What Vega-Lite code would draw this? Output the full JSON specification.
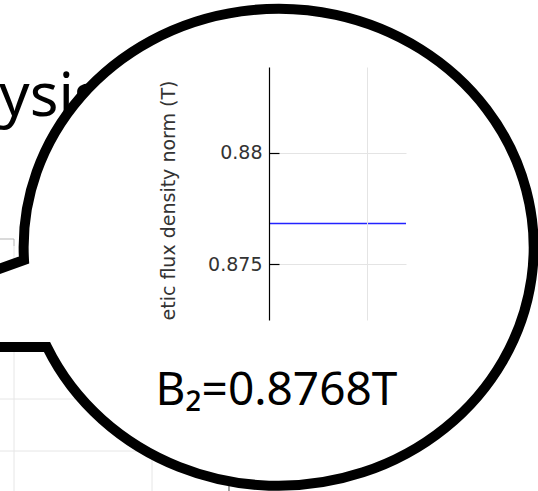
{
  "$schema": "https://vega.github.io/schema/vega-lite/v6.json",
  "autosize": {"type": "none"},
  "width": 137,
  "height": 253,
  "padding": {"left": 269, "top": 67, "right": 132, "bottom": 171},
  "background": "white",
  "config": {"view": {"stroke": null}},
  "datasets": {
    "series": [
      {"x": 0, "b": 0.87683},
      {"x": 1.4, "b": 0.87683}
    ],
    "backdrop": [
      {"kind": "grid", "x1": -3, "x2": 0, "y1": 0.868923, "y2": 0.868923},
      {"kind": "grid", "x1": -3, "x2": 0, "y1": 0.866582, "y2": 0.866582},
      {"kind": "grid", "x1": -2.6058, "x2": -2.6058, "y1": 0.87581, "y2": 0.86},
      {"kind": "grid", "x1": -1.1956, "x2": -1.1956, "y1": 0.87, "y2": 0.86},
      {"kind": "frame", "x1": -3, "x2": -2.6058, "y1": 0.876126, "y2": 0.876126},
      {"kind": "frame", "x1": -2.6058, "x2": -2.6058, "y1": 0.876126, "y2": 0.87581},
      {"kind": "tick", "x1": -0.4088, "x2": -0.4088, "y1": 0.866, "y2": 0.86}
    ],
    "heading": [{"x": -1.70, "y": 0.881664, "label": "Analysis"}],
    "bubble": [{"x": 0.09197, "y": 0.875789}]
  },
  "encoding": {
    "x": {
      "type": "quantitative",
      "scale": {"domain": [0, 1.4], "nice": false, "zero": false},
      "axis": {
        "orient": "bottom",
        "values": [1],
        "grid": true,
        "gridColor": "#e4e4e4",
        "gridWidth": 1,
        "labels": false,
        "ticks": false,
        "domain": false,
        "zindex": 1,
        "title": "B₂=0.8768T",
        "titleFont": "Noto Sans",
        "titleFontSize": 46,
        "titleFontWeight": "normal",
        "titleColor": "#000000",
        "titleAlign": "center",
        "titleBaseline": "alphabetic",
        "titleX": 7,
        "titleY": 84.5
      }
    },
    "y": {
      "type": "quantitative",
      "scale": {"domain": [0.87248, 0.88387], "nice": false, "zero": false},
      "axis": {
        "orient": "left",
        "values": [0.875, 0.88],
        "format": "~g",
        "grid": true,
        "gridColor": "#e4e4e4",
        "gridWidth": 1,
        "domainColor": "#000000",
        "domainWidth": 1.2,
        "tickColor": "#000000",
        "tickWidth": 1.2,
        "tickSize": -10,
        "labelPadding": 17,
        "labelFont": "DejaVu Sans",
        "labelFontSize": 19,
        "labelColor": "#333333",
        "zindex": 1,
        "title": "etic flux density norm (T)",
        "titleFont": "DejaVu Sans",
        "titleFontSize": 19,
        "titleFontWeight": "normal",
        "titleColor": "#333333",
        "titleAngle": 270,
        "titleAlign": "left",
        "titleBaseline": "alphabetic",
        "titleX": -95,
        "titleY": 253
      }
    }
  },
  "layer": [
    {
      "data": {"name": "backdrop"},
      "mark": {"type": "rule", "strokeWidth": 1},
      "encoding": {
        "x": {"field": "x1", "type": "quantitative"},
        "x2": {"field": "x2"},
        "y": {"field": "y1", "type": "quantitative"},
        "y2": {"field": "y2"},
        "color": {
          "field": "kind",
          "type": "nominal",
          "scale": {"domain": ["grid", "frame", "tick"], "range": ["#e6e6e6", "#b5b5b5", "#444444"]},
          "legend": null
        }
      }
    },
    {
      "data": {"name": "heading"},
      "mark": {"type": "text", "font": "Noto Sans", "fontSize": 60, "align": "right", "baseline": "alphabetic", "color": "#000000"},
      "encoding": {
        "x": {"field": "x", "type": "quantitative"},
        "y": {"field": "y", "type": "quantitative"},
        "text": {"field": "label"}
      }
    },
    {
      "data": {"name": "bubble"},
      "mark": {
        "type": "point",
        "shape": "M -0.99608 0.05294 A 1 0.93529 0 1 1 -0.90588 0.39412 L -1.9451 0.39412 Z",
        "size": 260100,
        "filled": true,
        "fill": "#ffffff",
        "stroke": "#000000",
        "strokeWidth": 10,
        "opacity": 1,
        "fillOpacity": 1,
        "strokeOpacity": 1
      },
      "encoding": {
        "x": {"field": "x", "type": "quantitative"},
        "y": {"field": "y", "type": "quantitative"}
      }
    },
    {
      "data": {"name": "series"},
      "mark": {"type": "line", "color": "#2323ff", "strokeWidth": 1.5},
      "encoding": {
        "x": {"field": "x", "type": "quantitative"},
        "y": {"field": "b", "type": "quantitative"}
      }
    }
  ]
}
